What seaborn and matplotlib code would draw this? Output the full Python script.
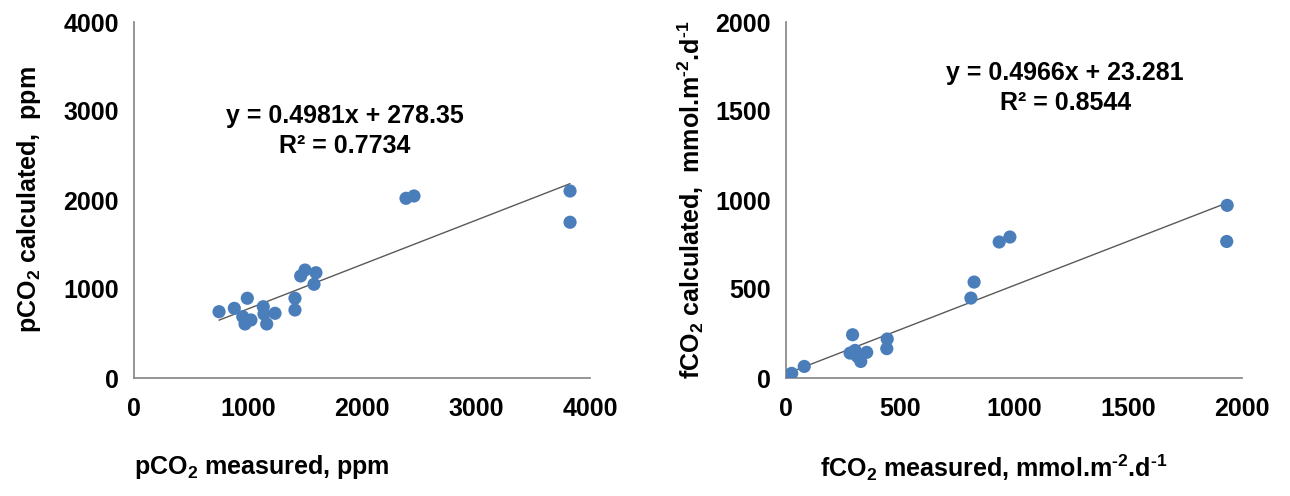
import numpy as np
import pandas as pd
import matplotlib
matplotlib.use("Agg")
import matplotlib.pyplot as plt
import seaborn as sns

# -------------------------------------------------
# Data
# -------------------------------------------------
pco2_measured = [746, 880, 994, 954, 974, 1026, 1134, 1140, 1237, 1164,
                 1412, 1412, 1462, 1500, 1596, 1579, 2386, 2456, 3825, 3825]
pco2_calculated = [745, 783, 896, 689, 607, 652, 801, 719, 727, 607,
                   896, 764, 1146, 1213, 1183, 1053, 2019, 2045, 2101, 1750]

fco2_measured = [20, 25, 80, 292, 281, 303, 313, 328, 354, 444, 442,
                 825, 811, 935, 982, 1935, 1933]
fco2_calculated = [20, 26, 65, 243, 140, 155, 121, 93, 144, 219, 165,
                   539, 449, 764, 792, 970, 767]

# trendline coefficients as printed on the chart
p_slope, p_intercept, p_r2 = 0.4981, 278.35, 0.7734
f_slope, f_intercept, f_r2 = 0.4966, 23.281, 0.8544

sns.set_style("white")
plt.rcParams["font.family"] = ["Liberation Sans", "DejaVu Sans"]
plt.rcParams["font.weight"] = "bold"
plt.rcParams["mathtext.fontset"] = "custom"
plt.rcParams["mathtext.rm"] = "Liberation Sans:bold"
plt.rcParams["mathtext.bf"] = "Liberation Sans:bold"
plt.rcParams["text.color"] = "black"
plt.rcParams["axes.labelcolor"] = "black"
plt.rcParams["xtick.labelcolor"] = "black"
plt.rcParams["ytick.labelcolor"] = "black"

point_color = "#4a7ebb"
axis_color = "#8c8c8c"
fs = 18

fig = plt.figure(figsize=(12.9, 4.96), dpi=100)
ax1 = fig.add_axes([134 / 1290, 118 / 496, 456 / 1290, 356 / 496])
ax2 = fig.add_axes([786 / 1290, 118 / 496, 456 / 1290, 356 / 496])

pdf = pd.DataFrame({"measured": pco2_measured, "calculated": pco2_calculated})
fdf = pd.DataFrame({"measured": fco2_measured, "calculated": fco2_calculated})


def draw_panel(ax, df, slope, intercept, r2, xmax, ystep, xlabel, ylabel,
               eq_xy, ylab_x, xlab_x):
    sns.scatterplot(data=df, x="measured", y="calculated", ax=ax,
                    color=point_color, s=90, edgecolor="none", zorder=3)
    xs = np.array([df["measured"].min(), df["measured"].max()])
    ax.plot(xs, slope * xs + intercept, color="#595959", lw=1.0, zorder=2)

    ax.set_xlim(0, xmax)
    ax.set_ylim(0, xmax)
    ax.set_xticks(np.arange(0, xmax + 1, ystep))
    ax.set_yticks(np.arange(0, xmax + 1, ystep))
    for side in ["top", "right"]:
        ax.spines[side].set_visible(False)
    for side in ["left", "bottom"]:
        ax.spines[side].set_color(axis_color)
        ax.spines[side].set_linewidth(1.3)
    ax.tick_params(axis="both", direction="out", length=6, width=1.3,
                   color=axis_color, labelcolor="black", labelsize=fs, pad=5)
    ax.tick_params(axis="x", pad=8)
    for lab in ax.get_xticklabels() + ax.get_yticklabels():
        lab.set_fontweight("bold")

    ax.set_xlabel(xlabel, fontsize=fs, fontweight="bold", color="black")
    ax.xaxis.label.set_ha("left")
    ax.xaxis.set_label_coords(xlab_x, -0.21)
    ax.set_ylabel(ylabel, fontsize=fs, fontweight="bold", color="black")
    ax.yaxis.set_label_coords(ylab_x, 0.5)

    ax.text(eq_xy[0], eq_xy[1],
            f"y = {slope}x + {intercept}\nR² = {r2}",
            transform=ax.transAxes, ha="center", va="top", color="black",
            fontsize=fs, fontweight="bold", linespacing=1.3)


sup2 = r"$^\mathregular{\text{-}2}$"
sup1 = r"$^\mathregular{\text{-}1}$"
draw_panel(ax1, pdf, p_slope, p_intercept, p_r2, 4000, 1000,
           r"pCO$_\mathregular{2}$ measured, ppm",
           r"pCO$_\mathregular{2}$ calculated,  ppm",
           (0.463, 0.77), -0.2, 0.0)
draw_panel(ax2, fdf, f_slope, f_intercept, f_r2, 2000, 500,
           r"fCO$_\mathregular{2}$ measured, mmol.m" + sup2 + ".d" + sup1,
           r"fCO$_\mathregular{2}$ calculated,  mmol.m" + sup2 + ".d" + sup1,
           (0.612, 0.89), -0.175, 0.075)

fig.savefig("out.png", dpi=100)
plt.close(fig)
